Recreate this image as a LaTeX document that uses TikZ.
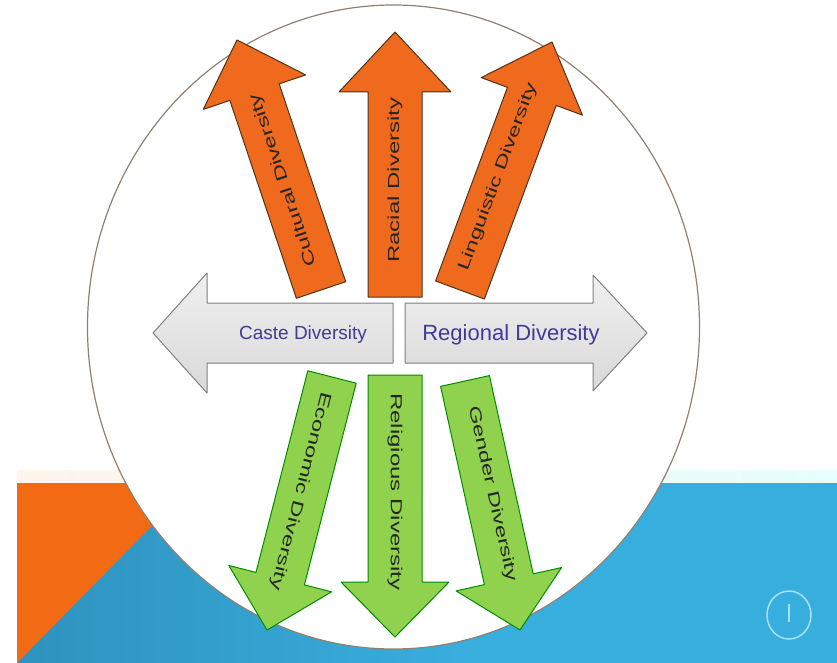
\documentclass[tikz,border=0pt]{standalone}
\usepackage{fontspec}
\setmainfont{Liberation Sans}
\usetikzlibrary{calc}

\definecolor{bandorange}{HTML}{F26A14}
\definecolor{banddark}{HTML}{2F92BE}
\definecolor{bandlight}{HTML}{38AEDF}
\definecolor{arroworange}{HTML}{F06A1E}
\definecolor{arrowgreen}{HTML}{90D24E}
\definecolor{captext}{HTML}{3F3C98}

\tikzset{
	orangearrow/.style={fill=arroworange, draw=black!60!brown, line width=1pt, line join=round},
	greenarrow/.style={fill=arrowgreen, draw=black!45!green, line width=1pt, line join=round},
	greyarrow/.style={top color=gray!12, bottom color=gray!30, draw=gray, line width=1pt, line join=round},
	uplabel/.style={font=\fontsize{16}{18}\selectfont, text=black!85, xscale=1.5, inner sep=0pt},
	sidelabel/.style={text=captext, inner sep=0pt}
}

% block arrow: style, base, tip, shaft half width, head half width, head length
\newcommand{\fatarrow}[6]{%
	\coordinate (fa-h) at ($(#3)!#6!(#2)$);
	\draw[#1] ($(#2)!#4!90:(#3)$) -- ($(fa-h)!#4!90:(#3)$) -- ($(fa-h)!#5!90:(#3)$) -- (#3)
		-- ($(fa-h)!#5!-90:(#3)$) -- ($(fa-h)!#4!-90:(#3)$) -- ($(#2)!#4!-90:(#3)$) -- cycle;
}

\begin{document}
\begin{tikzpicture}[x=1pt, y=-1pt]
	\useasboundingbox (0,0) rectangle (837,663);
	\fill[white] (0,0) rectangle (837,663);

	% bands at the bottom
	\shade[left color=orange!8, right color=cyan!10] (17,470) rectangle (837,483);
	\fill[bandlight] (17,483) rectangle (837,663);
	\shade[left color=banddark, right color=bandlight] (17,483) rectangle (470,663);
	\fill[bandorange] (17,483) -- (194,483) -- (17,663) -- cycle;

	% page icon
	\draw[cyan!35, line width=1.5pt] (789,615) ellipse (22 and 24);
	\draw[cyan!35, line width=1.5pt] (789,604) -- (789,622);

	\draw[fill=white, draw=gray!75!brown, line width=1.2pt] (393.5,327) ellipse (306 and 322);

	\coordinate (cultural-b) at (321,290);
	\coordinate (cultural-t) at (237,40);
	\coordinate (racial-b) at (395,297);
	\coordinate (racial-t) at (395,32);
	\coordinate (linguistic-b) at (460,290);
	\coordinate (linguistic-t) at (552,42);
	\coordinate (caste-b) at (393,333);
	\coordinate (caste-t) at (153,333);
	\coordinate (regional-b) at (405,333);
	\coordinate (regional-t) at (647,333);
	\coordinate (economic-b) at (332,377);
	\coordinate (economic-t) at (267,630);
	\coordinate (religious-b) at (395,375);
	\coordinate (religious-t) at (395,637);
	\coordinate (gender-b) at (465,381);
	\coordinate (gender-t) at (520,630);

	\fatarrow{orangearrow}{cultural-b}{cultural-t}{26pt}{54pt}{55pt}
	\fatarrow{orangearrow}{racial-b}{racial-t}{27pt}{56pt}{60pt}
	\fatarrow{orangearrow}{linguistic-b}{linguistic-t}{26pt}{54pt}{58pt}

	\fatarrow{greyarrow}{caste-b}{caste-t}{30pt}{60pt}{54pt}
	\fatarrow{greyarrow}{regional-b}{regional-t}{30pt}{58pt}{54pt}

	\fatarrow{greenarrow}{economic-b}{economic-t}{25pt}{53pt}{53pt}
	\fatarrow{greenarrow}{religious-b}{religious-t}{27pt}{54pt}{55pt}
	\fatarrow{greenarrow}{gender-b}{gender-t}{25pt}{54pt}{52pt}

	\node[rotate=108.6, uplabel] (cultural) at (284,180) {Cultural Diversity};
	\node[rotate=90, uplabel] (racial) at (395,180) {Racial Diversity};
	\node[rotate=69.6, uplabel] (linguistic) at (498,177) {Linguistic Diversity};

	\node[sidelabel, font=\fontsize{19}{21}\selectfont] (caste) at (303,335) {Caste Diversity};
	\node[sidelabel, font=\fontsize{22}{24}\selectfont] (regional) at (511,335) {Regional Diversity};

	\node[rotate=-104.4, uplabel] (economic) at (300,491) {Economic Diversity};
	\node[rotate=-90, uplabel] (religious) at (395,492) {Religious Diversity};
	\node[rotate=-77.5, uplabel] (gender) at (492,494) {Gender Diversity};
\end{tikzpicture}
\end{document}
